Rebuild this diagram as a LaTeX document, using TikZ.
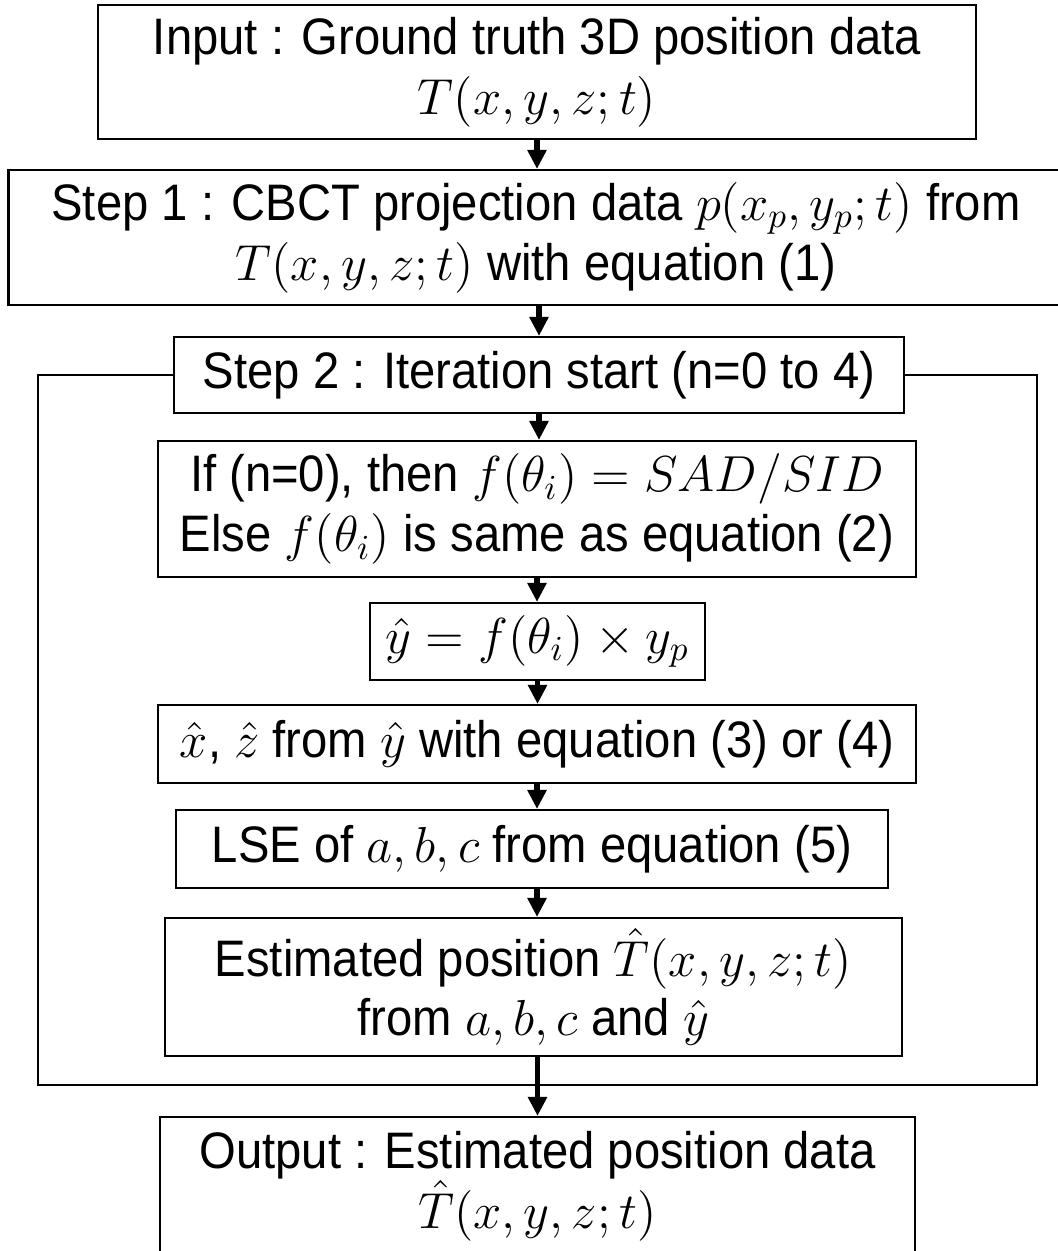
\documentclass[tikz,border=0pt]{standalone}
\usepackage{amsmath}
\usepackage{xcolor}
\usepackage{fontspec}
\setmainfont[FakeStretch=0.92]{Liberation Sans}
\usepackage{tikz}
\usetikzlibrary{arrows.meta}

\tikzset{
    stage/.style={draw, line width=0.6pt, align=center, inner sep=0pt,
        font=\fontsize{14.6}{17}\selectfont},
    flow/.style={line width=1.6pt, -{Triangle[length=5.4pt,width=5.2pt]}},
}

\begin{document}
\begin{tikzpicture}
    \useasboundingbox (0,0) rectangle (10.57,12.51);
    \node[stage, minimum width=8.78cm, minimum height=1.34cm] (input) at (5.37,11.79)
        {Input : Ground truth 3D position data\\ $T(x,y,z;t)$};
    \node[stage, minimum width=10.55cm, minimum height=1.35cm] (step1) at (5.36,10.135)
        {Step 1 : CBCT projection data $p(x_p,y_p;t)$ from\\ $T(x,y,z;t)$ with equation (1)};
    \node[stage, minimum width=7.30cm, minimum height=0.76cm] (step2) at (5.39,8.76)
        {Step 2 : Iteration start (n=0 to 4)};
    \node[stage, minimum width=7.58cm, minimum height=1.36cm] (init) at (5.37,7.42)
        {If (n=0), then $f(\theta_i) = SAD/SID$\\ Else $f(\theta_i)$ is same as equation (2)};
    \node[stage, minimum width=3.35cm, minimum height=0.77cm] (yhat) at (5.375,6.095)
        {$\hat{y} = f(\theta_i) \times y_p$};
    \node[stage, minimum width=7.58cm, minimum height=0.78cm] (xz) at (5.37,5.07)
        {$\hat{x}$, $\hat{z}$ from $\hat{y}$ with equation (3) or (4)};
    \node[stage, minimum width=7.12cm, minimum height=0.78cm] (lse) at (5.32,4.02)
        {LSE of $a,b,c$ from equation (5)};
    \node[stage, minimum width=7.37cm, minimum height=1.38cm] (est) at (5.335,2.64)
        {Estimated position $\hat{T}(x,y,z;t)$\\ from $a,b,c$ and $\hat{y}$};
    \node[stage, minimum width=7.55cm, minimum height=1.38cm] (output) at (5.375,0.65)
        {Output : Estimated position data\\ $\hat{T}(x,y,z;t)$};

    % iteration loop
    \coordinate (loopL) at (0.38,1.66);
    \coordinate (loopR) at (10.37,1.66);
    \draw[line width=0.6pt] (step2.west) -| (loopL) -- (loopR) |- (step2.east);

    \draw[flow] (input.south) -- (input.south |- step1.north);
    \draw[flow] (step1.south -| step2.north) -- (step2.north);
    \draw[flow] (step2.south) -- (step2.south |- init.north);
    \draw[flow] (init.south) -- (init.south |- yhat.north);
    \draw[flow] (yhat.south) -- (yhat.south |- xz.north);
    \draw[flow] (xz.south) -- (xz.south |- lse.north);
    \draw[flow] (lse.south -| xz.south) -- (xz.south |- est.north);
    \draw[flow] (est.south -| output.north) -- (output.north);
\end{tikzpicture}
\end{document}
